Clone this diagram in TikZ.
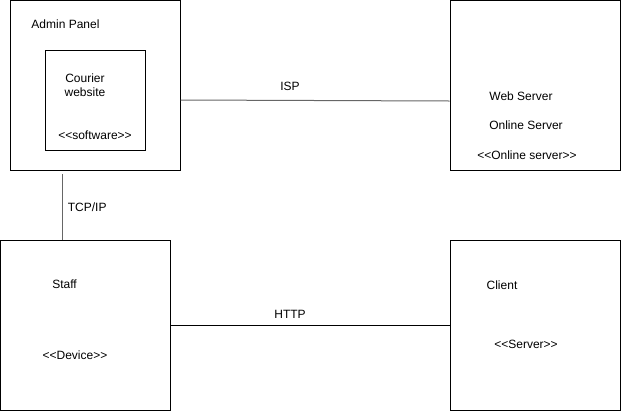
\documentclass[tikz,border=0pt]{standalone}
\usepackage{fontspec}
\newfontfamily\labfont{Liberation Sans}
\usepackage{xcolor}
\usetikzlibrary{positioning}
\definecolor{wiregray}{HTML}{666666}

\begin{document}
\begin{tikzpicture}[x=0.75pt,y=-0.75pt,line width=0.75pt,
  box/.style={draw,rectangle,inner sep=0pt,minimum width=127.5pt,minimum height=127.5pt},
  lab/.style={inner sep=0pt,font=\labfont\fontsize{9}{11}\selectfont}]
\useasboundingbox (0,0) rectangle (621,411);
% nodes
\node [box] (admin) at (95,85) {};
\node [box,minimum width=75pt,minimum height=75pt] (site) at (95,100) {};
\node [box] (web) at (535,85) {};
\node [box] (staff) at (85,325) {};
\node [box] (client) at (535,325) {};
% labels
\node [lab] (adminlab) at (65.5,24) {Admin Panel};
\node [lab] (sitelab1) at (85,78) {Courier};
\node [lab] (sitelab2) at (85,92) {website};
\node [lab] (sitelab3) at (95,135) {<<software>>};
\node [lab] (weblab1) at (521,96) {Web Server};
\node [lab] (weblab2) at (526,125) {Online Server};
\node [lab] (weblab3) at (527,155) {<<Online server>>};
\node [lab] (stafflab1) at (64.5,284) {Staff};
\node [lab] (stafflab2) at (75,355) {<<Device>>};
\node [lab] (clientlab1) at (502,285) {Client};
\node [lab] (clientlab2) at (526,344) {<<Server>>};
% connectors
\coordinate (tcp) at (62,174);
\draw [wiregray] (tcp) -- (tcp |- staff.north) node [lab,black,midway,right=4pt] {TCP/IP};
\draw [wiregray] ([yshift=-11.25pt]admin.east) -- ([yshift=-12pt]web.west);
\node [lab] (isp) at (290,86) {ISP};
\draw (staff.east) -- (client.west);
\node [lab] (http) at (290,314) {HTTP};
\end{tikzpicture}
\end{document}
